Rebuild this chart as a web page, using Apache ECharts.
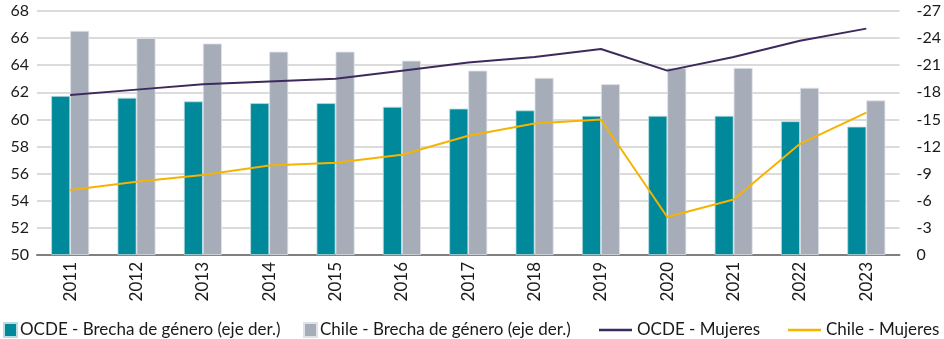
<!DOCTYPE html>
<html>
<head>
<meta charset="utf-8">
<script src="https://cdn.jsdelivr.net/npm/echarts@6/dist/echarts.min.js"></script>
<style>
  html, body { margin: 0; padding: 0; background: #fff; }
  #chart { width: 944px; height: 339px; }
</style>
</head>
<body>
<div id="chart"></div>
<script>
// Years on the category axis
const years = ['2011','2012','2013','2014','2015','2016','2017','2018','2019','2020','2021','2022','2023'];

// Gender gap (right axis, inverted, percentage points)
const ocdeBrecha  = [-17.6, -17.4, -17.0, -16.8, -16.8, -16.4, -16.2, -16.0, -15.4, -15.4, -15.4, -14.8, -14.2];
const chileBrecha = [-24.8, -24.0, -23.4, -22.5, -22.5, -21.5, -20.4, -19.6, -18.9, -20.7, -20.7, -18.5, -17.1];

// Female participation rate (left axis, %)
const ocdeMujeres  = [61.8, 62.2, 62.6, 62.8, 63.0, 63.6, 64.2, 64.6, 65.2, 63.6, 64.6, 65.8, 66.7];
const chileMujeres = [54.8, 55.4, 55.9, 56.6, 56.8, 57.4, 58.8, 59.7, 60.0, 52.8, 54.1, 58.2, 60.5];

const FONT = 'Lato';
const TEXT = '#1a1a1a';
const LEG_FONT = { fontFamily: FONT, fontSize: 17, lineHeight: 20, color: TEXT };

// one legend block per entry so each sits at its own x position
function barLegend(name, left) {
  return {
    data: [name], left: left, top: 320, padding: 0,
    icon: 'rect', itemWidth: 13, itemHeight: 14,
    textStyle: Object.assign({ padding: [0, 0, 0, -2] }, LEG_FONT)
  };
}
function lineLegend(name, left) {
  return {
    data: [name], left: left, top: 320, padding: 0,
    icon: 'rect', itemWidth: 33, itemHeight: 2.5,
    textStyle: LEG_FONT
  };
}

const chart = echarts.init(document.getElementById('chart'), null, { renderer: 'canvas' });

chart.setOption({
  animation: false,
  textStyle: { fontFamily: FONT, color: TEXT },
  grid: { left: 37, right: 42, top: 11, bottom: 84, containLabel: false },
  legend: [
    barLegend('OCDE - Brecha de género (eje der.)', 3),
    barLegend('Chile - Brecha de género (eje der.)', 303),
    lineLegend('OCDE - Mujeres', 599),
    lineLegend('Chile - Mujeres', 788)
  ],
  xAxis: {
    type: 'category',
    data: years,
    boundaryGap: true,
    axisLine: { lineStyle: { color: '#7f7f7f', width: 2 } },
    axisTick: { show: false },
    axisLabel: { rotate: 90, fontFamily: FONT, fontSize: 17, color: TEXT, margin: 7 }
  },
  yAxis: [
    {
      type: 'value', min: 50, max: 68, interval: 2,
      axisLine: { show: false }, axisTick: { show: false },
      axisLabel: { fontFamily: FONT, fontSize: 16, color: TEXT, margin: 8, align: 'right' },
      splitLine: { lineStyle: { color: '#cfcfcf', width: 1.5 } }
    },
    {
      type: 'value', min: -27, max: 0, interval: 3, inverse: true,
      axisLine: { show: false }, axisTick: { show: false },
      axisLabel: { fontFamily: FONT, fontSize: 16, color: TEXT, margin: 17, align: 'left' },
      splitLine: { show: false }
    }
  ],
  series: [
    {
      name: 'OCDE - Brecha de género (eje der.)',
      type: 'bar', yAxisIndex: 1, data: ocdeBrecha,
      barWidth: 19, barGap: '0%',
      itemStyle: { color: '#00899a', borderColor: '#b9dde1', borderWidth: 0.8 },
      z: 2
    },
    {
      name: 'Chile - Brecha de género (eje der.)',
      type: 'bar', yAxisIndex: 1, data: chileBrecha,
      barWidth: 19, barGap: '0%',
      itemStyle: { color: '#a6adb9', borderColor: '#dfe3e8', borderWidth: 0.8 },
      z: 2
    },
    {
      name: 'OCDE - Mujeres',
      type: 'line', yAxisIndex: 0, data: ocdeMujeres,
      showSymbol: false, symbol: 'none',
      lineStyle: { color: '#3d2a5d', width: 2 },
      itemStyle: { color: '#3d2a5d' },
      z: 5
    },
    {
      name: 'Chile - Mujeres',
      type: 'line', yAxisIndex: 0, data: chileMujeres,
      showSymbol: false, symbol: 'none',
      lineStyle: { color: '#f6b300', width: 2 },
      itemStyle: { color: '#f6b300' },
      z: 5
    }
  ]
});
</script>
</body>
</html>
